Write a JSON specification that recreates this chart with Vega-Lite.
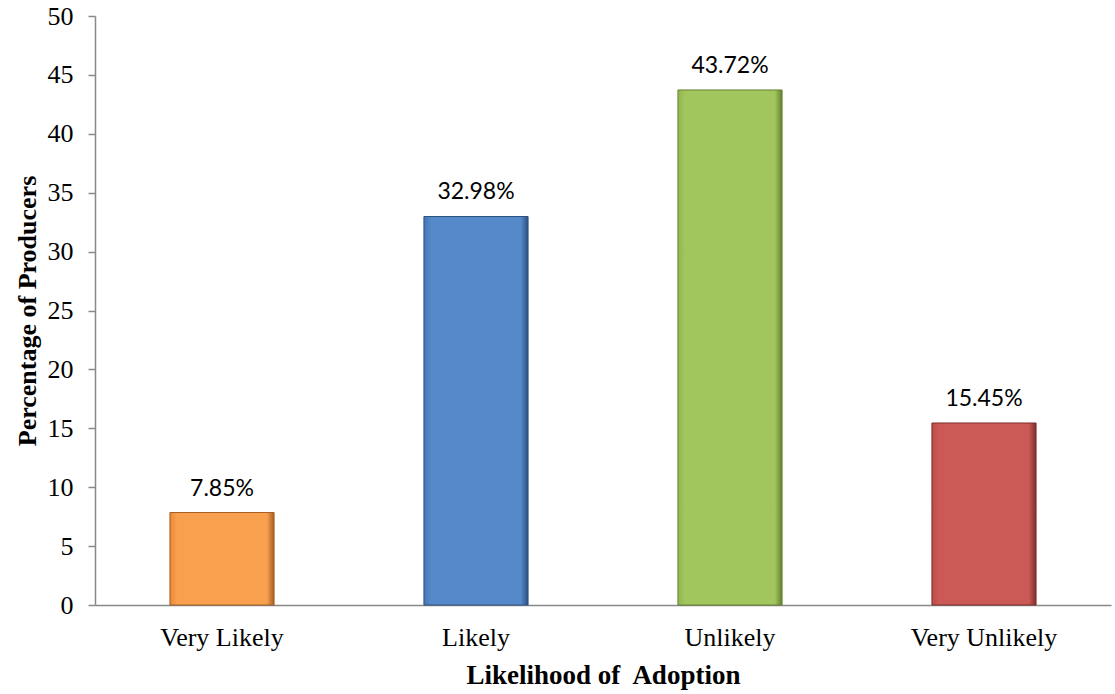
{
  "$schema": "https://vega.github.io/schema/vega-lite/v6.json",
  "autosize": "none",
  "padding": {"left": 95, "top": 16, "right": 4, "bottom": 89},
  "width": 1016,
  "height": 589,
  "background": "white",
  "config": {"view": {"stroke": null}},
  "data": {"values": [
    {"cat": "Very Likely", "pct": 7.85, "label": "7.85%"},
    {"cat": "Likely", "pct": 32.98, "label": "32.98%"},
    {"cat": "Unlikely", "pct": 43.72, "label": "43.72%"},
    {"cat": "Very Unlikely", "pct": 15.45, "label": "15.45%"}
  ]},
  "encoding": {
    "x": {"field": "cat", "type": "nominal", "sort": null,
      "scale": {"domain": ["Very Likely", "Likely", "Unlikely", "Very Unlikely"], "paddingInner": 0.59, "paddingOuter": 0.295},
      "axis": {"title": "Likelihood of\u00a0 Adoption", "labelAngle": 0, "ticks": false,
        "domainColor": "#898989", "domainWidth": 1.5,
        "labelFont": "Liberation Serif", "labelFontSize": 26, "labelColor": "black", "labelPadding": 19,
        "titleFont": "Liberation Serif", "titleFontSize": 27, "titleFontWeight": "bold", "titleColor": "black", "titlePadding": 12}},
    "y": {"field": "pct", "type": "quantitative",
      "scale": {"domain": [0, 50]},
      "axis": {"title": "Percentage of Producers", "values": [0,5,10,15,20,25,30,35,40,45,50], "grid": false,
        "domainColor": "#898989", "domainWidth": 1.5, "tickColor": "#898989", "tickSize": 7, "tickWidth": 1.5,
        "labelFont": "Liberation Serif", "labelFontSize": 26, "labelColor": "black", "labelPadding": 15,
        "titleFont": "Liberation Serif", "titleFontSize": 26, "titleFontWeight": "bold", "titleColor": "black", "titlePadding": 7}}
  },
  "layer": [
    {"transform": [{"filter": "datum.cat === 'Very Likely'"}],
      "mark": {"type": "bar", "strokeWidth": 1, "stroke": "#A65F22",
        "color": {"gradient": "linear", "x1": 0, "x2": 1, "y1": 0, "y2": 0, "stops": [
          {"offset": 0, "color": "#E8883A"}, {"offset": 0.07, "color": "#F9A04F"}, {"offset": 0.93, "color": "#F9A04F"}, {"offset": 1, "color": "#A65F22"}]}}},
    {"transform": [{"filter": "datum.cat === 'Likely'"}],
      "mark": {"type": "bar", "strokeWidth": 1, "stroke": "#2C5080",
        "color": {"gradient": "linear", "x1": 0, "x2": 1, "y1": 0, "y2": 0, "stops": [
          {"offset": 0, "color": "#4677B4"}, {"offset": 0.07, "color": "#5589CA"}, {"offset": 0.93, "color": "#5589CA"}, {"offset": 1, "color": "#2C5080"}]}}},
    {"transform": [{"filter": "datum.cat === 'Unlikely'"}],
      "mark": {"type": "bar", "strokeWidth": 1, "stroke": "#63802F",
        "color": {"gradient": "linear", "x1": 0, "x2": 1, "y1": 0, "y2": 0, "stops": [
          {"offset": 0, "color": "#92B550"}, {"offset": 0.07, "color": "#A2C65E"}, {"offset": 0.93, "color": "#A2C65E"}, {"offset": 1, "color": "#63802F"}]}}},
    {"transform": [{"filter": "datum.cat === 'Very Unlikely'"}],
      "mark": {"type": "bar", "strokeWidth": 1, "stroke": "#7E2E2C",
        "color": {"gradient": "linear", "x1": 0, "x2": 1, "y1": 0, "y2": 0, "stops": [
          {"offset": 0, "color": "#B84C49"}, {"offset": 0.07, "color": "#CB5956"}, {"offset": 0.93, "color": "#CB5956"}, {"offset": 1, "color": "#7E2E2C"}]}}},
    {"mark": {"type": "text", "baseline": "alphabetic", "dy": -17, "font": "Lato", "fontSize": 23, "color": "black"},
      "encoding": {"text": {"field": "label"}}}
  ]
}
